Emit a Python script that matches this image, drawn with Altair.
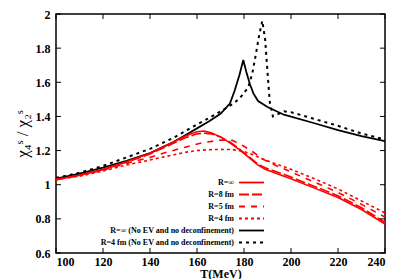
import altair as alt
import pandas as pd

# ---- data ----
T_black = [100, 110, 120, 130, 140, 150, 155, 160, 165, 170, 174, 176, 178, 179.7, 181, 182.5, 184, 186, 190, 197, 210, 220, 230, 240]
Y_black = [1.036, 1.065, 1.10, 1.14, 1.185, 1.25, 1.29, 1.33, 1.37, 1.415, 1.475, 1.55, 1.64, 1.73, 1.66, 1.59, 1.535, 1.49, 1.455, 1.41, 1.36, 1.32, 1.285, 1.255]

T_bdot = [100, 110, 120, 130, 140, 150, 157, 165, 172, 176, 179, 181.8, 183.5, 185, 186.5, 187.8, 189, 190, 191, 192.3, 194, 197, 200, 210, 220, 230, 240]
Y_bdot = [1.04, 1.07, 1.11, 1.16, 1.21, 1.275, 1.33, 1.39, 1.446, 1.48, 1.52, 1.57, 1.65, 1.76, 1.88, 1.96, 1.85, 1.66, 1.48, 1.40, 1.41, 1.43, 1.425, 1.385, 1.345, 1.30, 1.265]

T_red = [100, 110, 120, 130, 140, 150, 155, 160, 163, 166, 170, 174, 178, 182, 186, 189, 195, 200, 210, 220, 230, 240]
Y_rinf = [1.03, 1.055, 1.09, 1.135, 1.185, 1.25, 1.285, 1.31, 1.315, 1.305, 1.28, 1.245, 1.205, 1.16, 1.115, 1.09, 1.06, 1.035, 0.98, 0.925, 0.855, 0.77]
Y_r8 = [1.03, 1.055, 1.088, 1.132, 1.18, 1.243, 1.275, 1.298, 1.302, 1.298, 1.28, 1.25, 1.21, 1.165, 1.12, 1.10, 1.07, 1.045, 0.99, 0.935, 0.865, 0.78]

T_r5 = [100, 110, 120, 130, 140, 147, 155, 162, 170, 175, 180, 184, 188, 194, 200, 210, 220, 230, 240]
Y_r5 = [1.03, 1.055, 1.085, 1.125, 1.16, 1.19, 1.22, 1.245, 1.262, 1.26, 1.225, 1.19, 1.15, 1.11, 1.075, 1.015, 0.955, 0.885, 0.81]

T_r4 = [100, 110, 120, 130, 140, 150, 155, 160, 165, 170, 175, 180, 184, 188, 194, 200, 210, 220, 230, 240]
Y_r4 = [1.03, 1.05, 1.08, 1.115, 1.145, 1.175, 1.19, 1.20, 1.205, 1.207, 1.206, 1.195, 1.175, 1.15, 1.12, 1.09, 1.035, 0.975, 0.905, 0.835]

x_ticks = [100, 120, 140, 160, 180, 200, 220, 240]
y_ticks = [0.6, 0.8, 1.0, 1.2, 1.4, 1.6, 1.8, 2.0]

legend_labels = ["R=\u221e", "R=8 fm", "R=5 fm", "R=4 fm",
                 "R=\u221e (No EV and no deconfinement)",
                 "R=4 fm (No EV and no deconfinement)"]

RED = "#ff0000"
BLACK = "#000000"
W, H = 329, 239
FONT = "Liberation Serif"

xs = alt.Scale(domain=[100, 240], nice=False, zero=False)
ys = alt.Scale(domain=[0.6, 2.0], nice=False, zero=False)

xaxis = alt.Axis(values=x_ticks, format="d", title="T(MeV)", ticks=False, domain=False, grid=False,
                 labelFont=FONT, labelFontSize=12, labelFontWeight="bold", labelPadding=3,
                 titleFont=FONT, titleFontSize=12, titleFontWeight="bold", titlePadding=1, labelColor="black", titleColor="black")
yaxis = alt.Axis(values=y_ticks, format="~g", title="\u03c7\u2084\u02e2 / \u03c7\u2082\u02e2", ticks=False, domain=False, grid=False,
                 labelFont=FONT, labelFontSize=12, labelFontWeight="bold", labelPadding=6,
                 titleFont=FONT, titleFontSize=17, titleFontWeight="normal", titlePadding=4, labelColor="black", titleColor="black")


def series(T, Y, color, dash, width):
    df = pd.DataFrame({"T": T, "Y": Y})
    enc = dict(
        x=alt.X("T:Q", scale=xs, axis=xaxis),
        y=alt.Y("Y:Q", scale=ys, axis=yaxis),
        order="T:Q",
    )
    mk = dict(color=color, strokeWidth=width, clip=True)
    if dash:
        mk["strokeDash"] = dash
    return alt.Chart(df).mark_line(**mk).encode(**enc)


layers = [
    series(T_black, Y_black, BLACK, None, 1.8),
    series(T_bdot, Y_bdot, BLACK, [3, 4], 2.0),
    series(T_red, Y_rinf, RED, None, 1.6),
    series(T_red, Y_r8, RED, [10, 3], 1.6),
    series(T_r5, Y_r5, RED, [6, 6], 1.6),
    series(T_r4, Y_r4, RED, [3, 3], 1.6),
]

# inward ticks on all four sides
xt = pd.DataFrame({"T": x_ticks})
yt = pd.DataFrame({"Y": y_ticks})
layers.append(alt.Chart(xt).mark_rule(color="black", strokeWidth=1).encode(
    x=alt.X("T:Q", scale=xs, axis=xaxis), y=alt.value(H), y2=alt.value(H - 5)))
layers.append(alt.Chart(xt).mark_rule(color="black", strokeWidth=1).encode(
    x=alt.X("T:Q", scale=xs, axis=xaxis), y=alt.value(0), y2=alt.value(5)))
layers.append(alt.Chart(yt).mark_rule(color="black", strokeWidth=1).encode(
    y=alt.Y("Y:Q", scale=ys, axis=yaxis), x=alt.value(0), x2=alt.value(5)))
layers.append(alt.Chart(yt).mark_rule(color="black", strokeWidth=1).encode(
    y=alt.Y("Y:Q", scale=ys, axis=yaxis), x=alt.value(W), x2=alt.value(W - 5)))

# legend (labels left of line samples)
leg_colors = [RED, RED, RED, RED, BLACK, BLACK]
leg_dash = [None, [10, 3], [6, 6], [3, 3], None, [3, 4]]
row_y0, row_dy = 168.5, 12
for i, lab in enumerate(legend_labels):
    yy = row_y0 + i * row_dy
    d = pd.DataFrame({"label": [lab]})
    layers.append(alt.Chart(d).mark_text(align="right", baseline="middle", font=FONT, fontSize=8,
                                         fontWeight="bold", color="black").encode(
        x=alt.value(178), y=alt.value(yy), text="label:N"))
    rk = dict(color=leg_colors[i], strokeWidth=1.8)
    if leg_dash[i]:
        rk["strokeDash"] = leg_dash[i]
    layers.append(alt.Chart(d).mark_rule(**rk).encode(
        x=alt.value(183), x2=alt.value(208), y=alt.value(yy)))

chart = alt.layer(*layers).properties(
    width=W, height=H,
    autosize=alt.AutoSizeParams(type="none"),
    padding={"left": 48, "top": 6, "right": 6, "bottom": 26},
    background="white",
).configure_view(stroke="black", strokeWidth=1.5)

chart.save("out.html", embed_options={"renderer": "svg", "actions": False})
